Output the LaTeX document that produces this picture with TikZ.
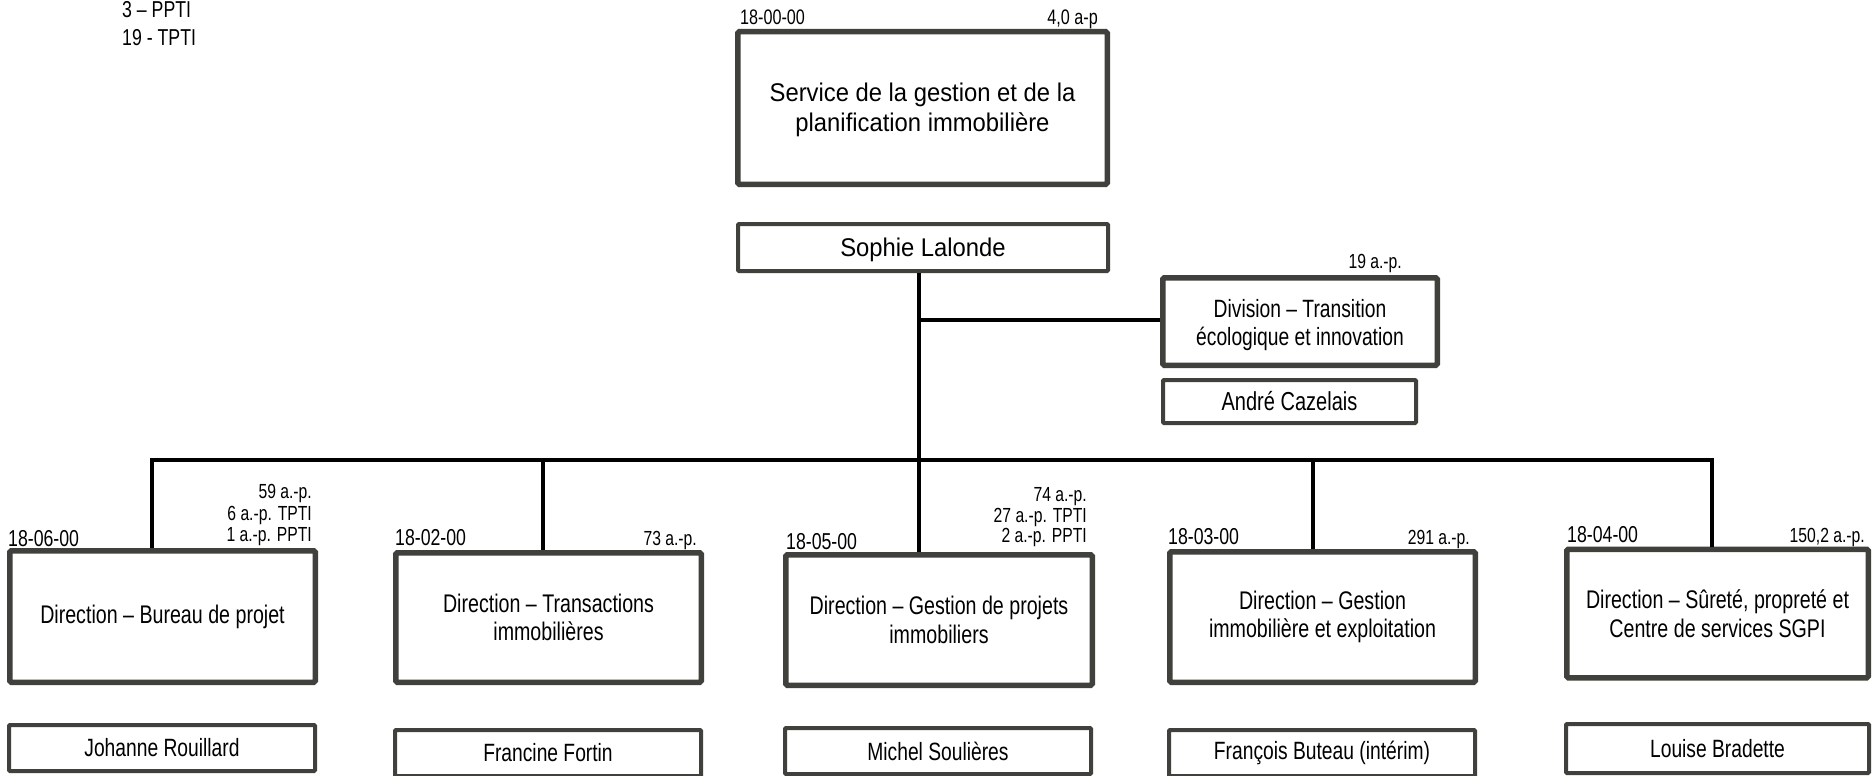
\documentclass[tikz,border=0pt]{standalone}
\usepackage{fontspec}
\setmainfont{Liberation Sans}
\newfontfamily\widef[FakeStretch=0.93]{Liberation Sans}
\newfontfamily\narrowf[FakeStretch=0.77]{Liberation Sans}
\definecolor{boxgray}{RGB}{64,64,60}
\tikzset{
  mainbox/.style={draw=boxgray, line width=5.5pt, rounded corners=1.5pt, fill=white, inner sep=0pt, align=center},
  namebox/.style={draw=boxgray, line width=4pt, rounded corners=1pt, fill=white, inner sep=0pt, align=center},
  conn/.style={draw=black, line width=4pt},
  wtext/.style={font=\widef\fontsize{25.6}{30}\selectfont},
  ntext/.style={font=\narrowf\fontsize{25.5}{28.5}\selectfont},
  nametext/.style={font=\narrowf\fontsize{25}{26}\selectfont},
  codelbl/.style={font=\narrowf\fontsize{23}{23}\selectfont, inner sep=0pt},
  toplbl/.style={font=\narrowf\fontsize{21}{21}\selectfont, inner sep=0pt},
  aplbl/.style={font=\narrowf\fontsize{20.4}{22}\selectfont, inner sep=0pt},
  legend/.style={font=\narrowf\fontsize{23}{23}\selectfont, inner sep=0pt}
}
\begin{document}
\begin{tikzpicture}[x=1pt,y=-1pt]
\useasboundingbox (0,0) rectangle (1872,776);
\clip (0,0) rectangle (1872,776);

% legend
\node[legend, anchor=base west] (leg1) at (122,18) {3 – PPTI};
\node[legend, anchor=base west] (leg2) at (122,46) {19 - TPTI};

% top
\node[mainbox, wtext, minimum width=369.5, minimum height=152.5] (top) at (922.5,108) {\rule{0pt}{22.7pt}Service de la gestion et de la\\planification immobilière};
\node[toplbl, anchor=base west] (topcode) at (740,25) {18-00-00};
\node[toplbl, anchor=base east] (topap) at (1098,25) {4,0 a-p};
\node[namebox, wtext, minimum width=370, minimum height=47] (sophie) at (923,247.5) {\rule{0pt}{22.7pt}Sophie Lalonde};

% division
\node[mainbox, font=\narrowf\fontsize{25}{28.5}\selectfont, minimum width=274.5, minimum height=87.5] (div) at (1300,321.5) {\rule{0pt}{25.3pt}Division – Transition\\écologique et innovation};
\node[aplbl, anchor=base east] (divap) at (1402,268) {19 a.-p.};
\node[namebox, font=\narrowf\fontsize{26}{26}\selectfont, minimum width=253, minimum height=43] (andre) at (1289.5,401.5) {André Cazelais};

% directions
\node[mainbox, ntext, minimum width=305.5, minimum height=131.5] (b1) at (162.5,616.5) {Direction – Bureau de projet};
\node[mainbox, ntext, minimum width=305.5, minimum height=129.5] (b2) at (548.5,617.5) {Direction – Transactions\\immobilières};
\node[mainbox, ntext, minimum width=306.5, minimum height=130.5] (b3) at (939,620) {Direction – Gestion de projets\\immobiliers};
\node[mainbox, ntext, minimum width=305.5, minimum height=130.5] (b4) at (1322.5,617) {Direction – Gestion\\immobilière et exploitation};
\node[mainbox, ntext, minimum width=301.5, minimum height=128.5] (b5) at (1717.5,613.5) {Direction – Sûreté, propreté et\\Centre de services SGPI};

% names
\node[namebox, nametext, minimum width=306, minimum height=46] (n1) at (162,748) {Johanne Rouillard};
\node[namebox, nametext, minimum width=306, minimum height=46] (n2) at (548,753) {Francine Fortin};
\node[namebox, nametext, minimum width=306, minimum height=46] (n3) at (938,751) {Michel Soulières};
\node[namebox, nametext, minimum width=306, minimum height=46] (n4) at (1322,753) {François Buteau (intérim)};
\node[namebox, nametext, minimum width=303, minimum height=49] (n5) at (1717.5,748.5) {Louise Bradette};

% codes and counts
\node[codelbl, anchor=base west] (c1l) at (8,546) {18-06-00};
\node[aplbl, anchor=base east] (a1a) at (312,498) {59 a.-p.};
\node[aplbl, anchor=base east] (a1b) at (312,520) {6 a.-p. TPTI};
\node[aplbl, anchor=base east] (a1c) at (312,541) {1 a.-p. PPTI};

\node[codelbl, anchor=base west] (c2l) at (395,545) {18-02-00};
\node[aplbl, anchor=base east] (a2a) at (697,545) {73 a.-p.};

\node[codelbl, anchor=base west] (c3l) at (786,549) {18-05-00};
\node[aplbl, anchor=base east] (a3a) at (1087,501) {74 a.-p.};
\node[aplbl, anchor=base east] (a3b) at (1087,522) {27 a.-p. TPTI};
\node[aplbl, anchor=base east] (a3c) at (1087,542) {2 a.-p. PPTI};

\node[codelbl, anchor=base west] (c4l) at (1168,544) {18-03-00};
\node[aplbl, anchor=base east] (a4a) at (1470,544) {291 a.-p.};

\node[codelbl, anchor=base west] (c5l) at (1567,542) {18-04-00};
\node[aplbl, anchor=base east] (a5a) at (1865,542) {150,2 a.-p.};

% connectors
\coordinate (j0) at (919,320);
\coordinate (c1) at (152,460);
\coordinate (c2) at (543,460);
\coordinate (c3) at (919,460);
\coordinate (c4) at (1313,460);
\coordinate (c5) at (1712,460);
\draw[conn] (sophie.south -| j0) -- (b3.north -| j0);
\draw[conn] (j0) -- (div.west |- j0);
\draw[conn] (b1.north -| c1) -- (c1) -- (c5) -- (b5.north -| c5);
\draw[conn] (c2) -- (b2.north -| c2);
\draw[conn] (c4) -- (b4.north -| c4);
\end{tikzpicture}
\end{document}
